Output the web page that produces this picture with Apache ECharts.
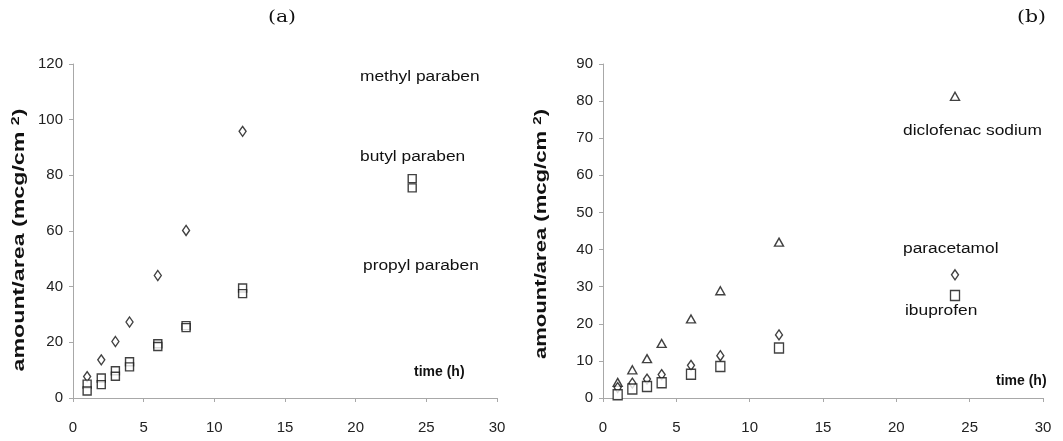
<!DOCTYPE html>
<html><head><meta charset="utf-8">
<script src="https://cdn.jsdelivr.net/npm/echarts@6/dist/echarts.min.js"></script>
<style>html,body{margin:0;padding:0;background:#fff}#c{width:1063px;height:441px}</style>
</head><body><div id="c"></div>
<script>
// ---- data ----
const timesA = [1, 2, 3, 4, 6, 8, 12];
const timesA24 = [1, 2, 3, 4, 6, 8, 12, 24];
const methylParaben = [7.7, 13.7, 20.3, 27.3, 44, 60.2, 95.8];
const butylParaben = [5, 7.2, 9.8, 13, 19.5, 26, 39.5, 78.8];
const propylParaben = [2.5, 4.8, 7.8, 11.2, 18.5, 25.3, 37.5, 75.5];

const timesB = [1, 2, 3, 4, 6, 8, 12, 24];
const diclofenacSodium = [4.2, 7.6, 10.6, 14.7, 21.3, 28.9, 42, 81.3];
const paracetamol = [2.8, 4, 5.1, 6.3, 8.8, 11.4, 17, 33.2];
const ibuprofen = [0.9, 2.4, 3.1, 4.1, 6.4, 8.5, 13.5, 27.6];

const xTicks = [0, 5, 10, 15, 20, 25, 30];
const yTicksA = [0, 20, 40, 60, 80, 100, 120];
const yTicksB = [0, 10, 20, 30, 40, 50, 60, 70, 80, 90];

const labelsA = ['methyl paraben', 'butyl paraben', 'propyl paraben'];
const labelsB = ['diclofenac sodium', 'paracetamol', 'ibuprofen'];
const panelTitles = ['(a)', '(b)'];
const xName = 'time (h)';
const yName = 'amount/area (mcg/cm {s|2})';

// ---- chart ----
const pair = (xs, ys) => ys.map((v, i) => [xs[i], v]);
const chart = echarts.init(document.getElementById('c'));
const font = 'Liberation Sans, Arial, sans-serif';
const axisCol = '#a8a8a8';

function xAxis(idx) {
  return {
    gridIndex: idx, type: 'value', min: xTicks[0], max: xTicks[xTicks.length - 1], interval: xTicks[1] - xTicks[0],
    axisLine: { show: true, onZero: false, lineStyle: { color: axisCol, width: 1 } },
    axisTick: { show: true, inside: false, length: 4, lineStyle: { color: axisCol } },
    splitLine: { show: false },
    axisLabel: { color: '#222', fontSize: 15, fontFamily: font, margin: 22 }
  };
}
function yAxis(idx, ticks) {
  return {
    gridIndex: idx, type: 'value', min: ticks[0], max: ticks[ticks.length - 1], interval: ticks[1] - ticks[0],
    axisLine: { show: true, onZero: false, lineStyle: { color: axisCol, width: 1 } },
    axisTick: { show: true, inside: false, length: 4, lineStyle: { color: axisCol } },
    splitLine: { show: false },
    axisLabel: { color: '#222', fontSize: 15, fontFamily: font, margin: 10 }
  };
}
function sc(name, idx, data, symbol, size) {
  return {
    name: name, type: 'scatter', xAxisIndex: idx, yAxisIndex: idx,
    data: data, symbol: symbol, symbolSize: size,
    itemStyle: { color: '#fff', borderColor: '#111', borderWidth: 1.4 },
    emphasis: { disabled: true }, z: 3
  };
}

const txt = (t, x, y, sx, f) => ({
  type: 'text', x: x, y: y, scaleX: sx || 1.24,
  style: { text: t, font: f || ('14px ' + font), fill: '#111', verticalAlign: 'middle' }
});
const yLabel = (x, y, sx) => ({
  type: 'text', x: x, y: y, rotation: Math.PI / 2, scaleX: sx,
  style: {
    text: yName, font: 'bold 16px ' + font, fill: '#111', align: 'center', verticalAlign: 'middle',
    rich: { s: { font: 'bold 11px ' + font, fill: '#111', verticalAlign: 'top', padding: [0, 0, 8, 0] } }
  }
});

chart.setOption({
  animation: false,
  backgroundColor: '#fff',
  grid: [
    { left: 73, right: 566, top: 64, bottom: 43 },
    { left: 603, right: 20, top: 64, bottom: 43 }
  ],
  xAxis: [xAxis(0), xAxis(1)],
  yAxis: [yAxis(0, yTicksA), yAxis(1, yTicksB)],
  series: [
    sc(labelsA[0], 0, pair(timesA, methylParaben), 'diamond', [7, 10]),
    sc(labelsA[1], 0, pair(timesA24, butylParaben), 'rect', [8, 8]),
    sc(labelsA[2], 0, pair(timesA24, propylParaben), 'rect', [8, 8]),
    sc(labelsB[0], 1, pair(timesB, diclofenacSodium), 'triangle', [9, 8]),
    sc(labelsB[1], 1, pair(timesB, paracetamol), 'diamond', [7, 10]),
    sc(labelsB[2], 1, pair(timesB, ibuprofen), 'rect', [9, 10])
  ],
  graphic: [
    txt(panelTitles[0], 268, 18, 1.2, '17px DejaVu Serif, serif'),
    txt(panelTitles[1], 1017, 18, 1.2, '17px DejaVu Serif, serif'),
    txt(labelsA[0], 360, 77),
    txt(labelsA[1], 360, 157),
    txt(labelsA[2], 363, 266),
    txt(labelsB[0], 903, 131),
    txt(labelsB[1], 903, 249),
    txt(labelsB[2], 905, 311),
    txt(xName, 414, 372, 1.0, 'bold 14px ' + font),
    txt(xName, 996, 381, 1.0, 'bold 14px ' + font),
    yLabel(20, 240, 1.45),
    yLabel(542, 234, 1.38)
  ]
});
</script></body></html>
